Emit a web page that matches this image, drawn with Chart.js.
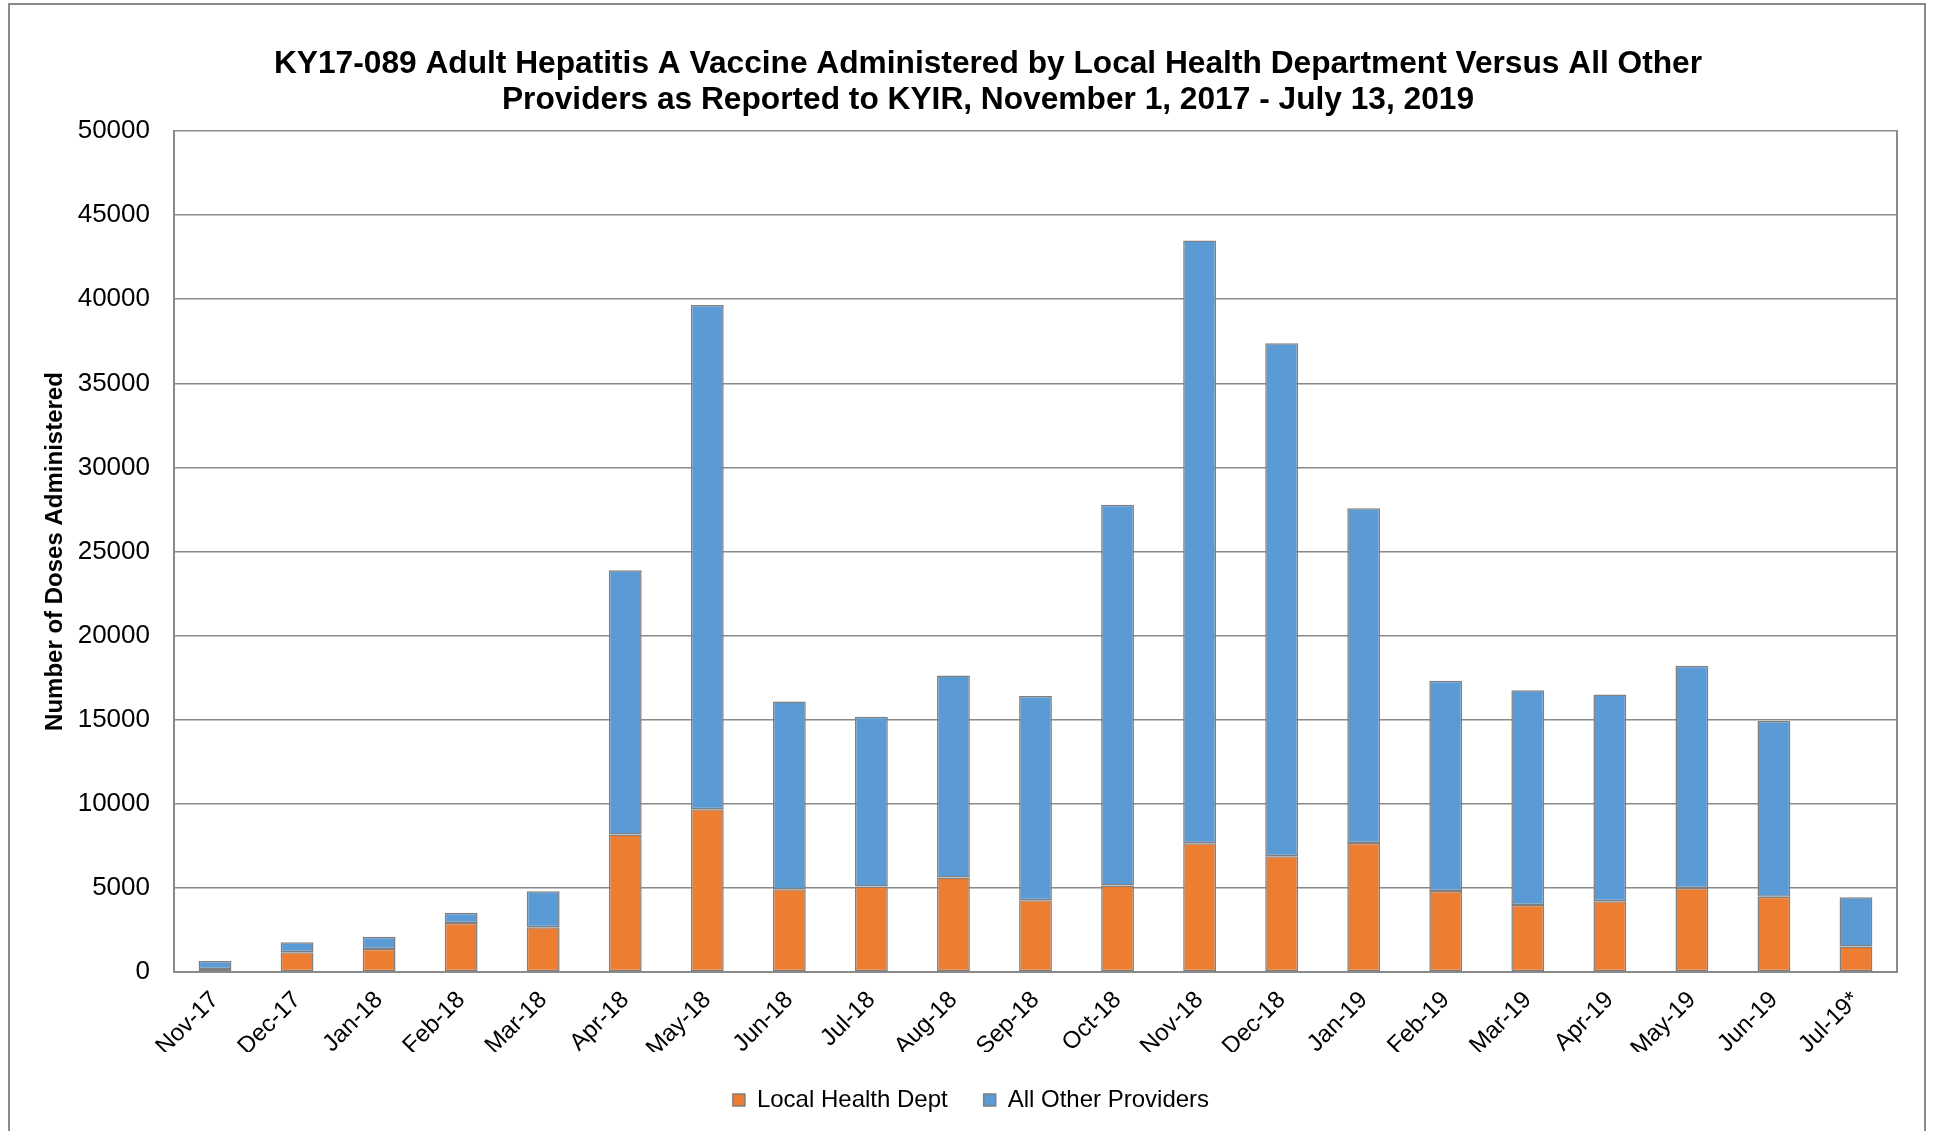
<!DOCTYPE html>
<html>
<head>
<meta charset="utf-8">
<script src="https://cdn.jsdelivr.net/npm/chart.js@4/dist/chart.umd.min.js"></script>
<style>
  html, body { margin: 0; padding: 0; background: #fff; overflow: hidden; }
  #frame {
    position: absolute; left: 8px; top: 3px; width: 1918px; height: 1140px;
    border: 2px solid #8a8a8a; box-sizing: border-box;
  }
  #wrap { position: absolute; left: 39px; top: 0; width: 1898px; height: 1131px; }
</style>
</head>
<body>
<div id="frame"></div>
<div id="wrap"><canvas id="chart" width="1898" height="1131"></canvas></div>
<script>
// Monthly adult hepatitis A doses, Nov 2017 - Jul 13 2019
const months = ['Nov-17','Dec-17','Jan-18','Feb-18','Mar-18','Apr-18','May-18','Jun-18','Jul-18',
  'Aug-18','Sep-18','Oct-18','Nov-18','Dec-18','Jan-19','Feb-19','Mar-19','Apr-19','May-19','Jun-19','Jul-19*'];
const localHealthDept = [180,1170,1370,2920,2660,8180,9670,4920,5080,5620,4270,5140,7660,6880,7670,4820,3980,4200,5000,4480,1510];
const allOtherProviders = [470,600,730,610,2140,15710,29980,11160,10090,12010,12140,22640,35830,30510,19900,12490,12770,12300,13210,10440,2930];
const yTicks = [0,5000,10000,15000,20000,25000,30000,35000,40000,45000,50000];

const FONT = "'Liberation Sans', Arial, sans-serif";
const GRID = '#8a8a8a';

// Nudge the legend a little left of the canvas centre line
const legendShift = {
  id: 'legendShift',
  afterLayout(chart) {
    if (chart.legend) { chart.legend.left -= 17; chart.legend.right -= 17; }
  }
};

new Chart(document.getElementById('chart'), {
  type: 'bar',
  data: {
    labels: months,
    datasets: [
      { label: 'Local Health Dept', data: localHealthDept, backgroundColor: '#ED7D31',
        borderColor: '#7f7f7f', borderWidth: 1.5, borderSkipped: false },
      { label: 'All Other Providers', data: allOtherProviders, backgroundColor: '#5B9BD5',
        borderColor: '#7f7f7f', borderWidth: 1.5, borderSkipped: false }
    ]
  },
  plugins: [legendShift],
  options: {
    responsive: false,
    animation: false,
    layout: { padding: { left: 0, right: 0, top: 0, bottom: 9 } },
    datasets: { bar: { barPercentage: 0.4, categoryPercentage: 1.0 } },
    plugins: {
      title: {
        display: true,
        text: ['KY17-089 Adult Hepatitis A Vaccine Administered by Local Health Department Versus All Other',
               'Providers as Reported to KYIR, November 1, 2017 - July 13, 2019'],
        color: '#000',
        font: { family: FONT, size: 31.7, weight: 'bold', lineHeight: 1.16 },
        padding: { top: 45.5, bottom: 12 }
      },
      legend: {
        position: 'bottom',
        labels: {
          color: '#000',
          font: { family: FONT, size: 24 },
          boxWidth: 12, boxHeight: 12, padding: 36
        }
      },
      tooltip: { enabled: false }
    },
    scales: {
      x: {
        stacked: true,
        grid: { display: false, drawTicks: false },
        border: { display: true, color: GRID, width: 2 },
        ticks: {
          color: '#000', font: { family: FONT, size: 24 },
          autoSkip: false, minRotation: 45, maxRotation: 45, padding: 14
        },
        afterFit: s => { s.height = 80; }
      },
      y: {
        stacked: true,
        min: 0, max: 50000,
        afterBuildTicks: s => { s.ticks = yTicks.map(v => ({ value: v })); },
        grid: { color: GRID, lineWidth: 1.5, drawTicks: false },
        border: { display: true, color: GRID, width: 2 },
        ticks: { color: '#000', font: { family: FONT, size: 26 }, padding: 24,
                 callback: v => String(v) },
        title: {
          display: true, text: 'Number of Doses Administered', color: '#000',
          font: { family: FONT, size: 24, weight: 'bold' }, padding: { top: 2, bottom: 0 }
        },
        afterFit: s => { s.width = 135; }
      },
      frameRight: {
        position: 'right',
        display: true,
        grid: { display: false, drawTicks: false },
        border: { display: true, color: GRID, width: 2 },
        ticks: { display: false },
        afterFit: s => { s.width = 40; }
      }
    }
  }
});
</script>
</body>
</html>
